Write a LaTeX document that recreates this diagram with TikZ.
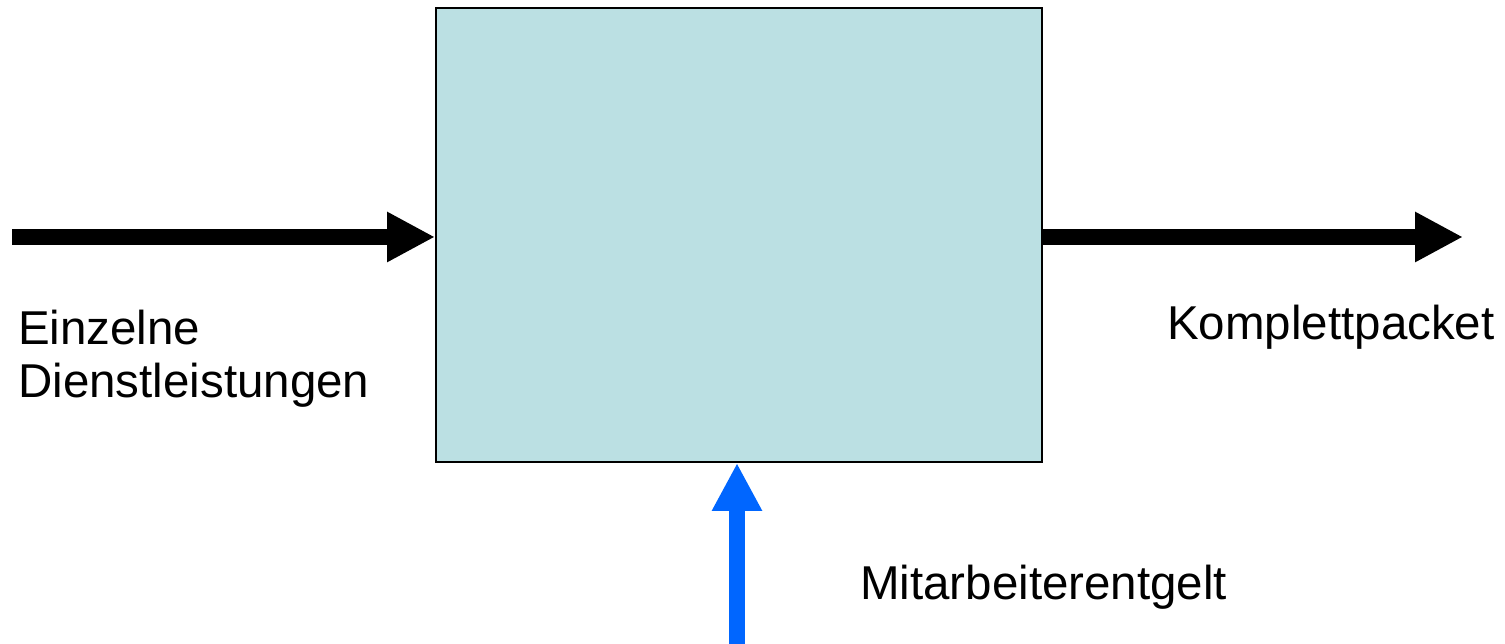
\documentclass[tikz,border=0pt]{standalone}
\usepackage{fontspec}
\setmainfont{Liberation Sans}
\usetikzlibrary{arrows.meta}
\definecolor{boxfill}{HTML}{BBE0E3}
\definecolor{flowblue}{HTML}{0066FF}
\begin{document}
\begin{tikzpicture}[x=1pt,y=1pt,
  lbl/.style={font=\fontsize{47.5}{53}\selectfont, inner sep=0pt, align=left},
  flow/.style={line width=16pt, -{Triangle[length=48pt,width=47pt]}},
  box/.style={draw=black, line width=2pt, fill=boxfill}]
\useasboundingbox (0,0) rectangle (1505,644);
\node[box, minimum width=606pt, minimum height=454pt, inner sep=0pt, anchor=south west] (proc) at (435,181) {};
\coordinate (inL) at (12,407);
\coordinate (outR) at (1463,407);
\coordinate (inB) at (737,0);
\draw[flow] (inL) -- (inL -| proc.west);
\draw[flow] (outR -| proc.east) -- (outR);
\draw[flow, draw=flowblue, fill=flowblue] (inB) -- (inB |- proc.south);
\node[lbl, anchor=base west] (t1) at (18,299) {Einzelne};
\node[lbl, anchor=base west] (t2) at (18,246) {Dienstleistungen};
\node[lbl, anchor=base west] (t3) at (1167,304) {Komplettpacket};
\node[lbl, anchor=base west] (t4) at (860,44) {Mitarbeiterentgelt};
\end{tikzpicture}
\end{document}
